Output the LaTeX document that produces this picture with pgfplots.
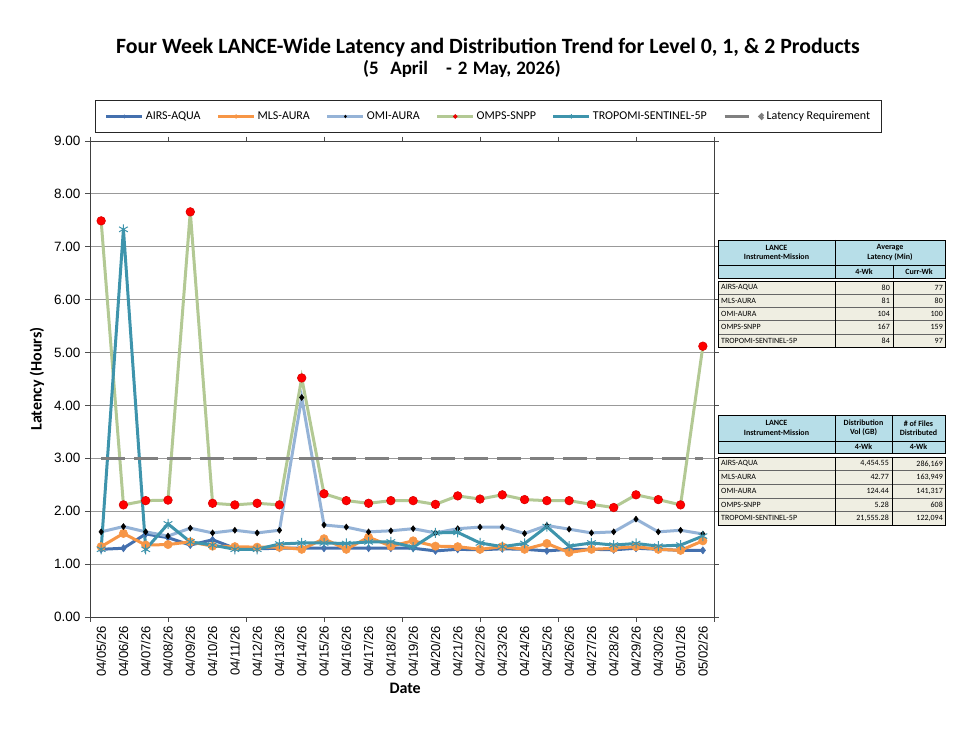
\documentclass[border=0pt]{standalone}
\usepackage{pgfplots}
\pgfplotsset{compat=1.18}
\usepackage{pgfplotstable}
\usepackage{fontspec}
\setmainfont{Carlito}
\newfontfamily\arialfont{Liberation Sans}

\definecolor{airs}{HTML}{4470AE}
\definecolor{mls}{HTML}{F79646}
\definecolor{omi}{HTML}{95B3D7}
\definecolor{omps}{HTML}{B3C994}
\definecolor{tropo}{HTML}{3E94AC}
\definecolor{req}{HTML}{808080}
\definecolor{hdr}{HTML}{B7DEE8}
\definecolor{bodyc}{HTML}{EFEEE2}

% daily latency (hours), day 0 = 04/05/26
\pgfplotstableread{
idx airs mls omi omps tropo
0 1.28 1.33 1.61 7.49 1.28
1 1.30 1.58 1.71 2.12 7.33
2 1.57 1.36 1.61 2.20 1.28
3 1.50 1.37 1.53 2.21 1.76
4 1.36 1.42 1.68 7.66 1.42
5 1.46 1.34 1.59 2.15 1.36
6 1.30 1.33 1.64 2.12 1.28
7 1.29 1.32 1.59 2.15 1.28
8 1.30 1.32 1.64 2.12 1.38
9 1.30 1.28 4.15 4.52 1.40
10 1.30 1.48 1.74 2.33 1.40
11 1.30 1.28 1.70 2.20 1.39
12 1.30 1.51 1.61 2.15 1.42
13 1.30 1.34 1.63 2.20 1.42
14 1.30 1.44 1.67 2.20 1.32
15 1.25 1.34 1.59 2.13 1.59
16 1.28 1.33 1.67 2.29 1.60
17 1.27 1.28 1.70 2.23 1.40
18 1.29 1.33 1.70 2.31 1.33
19 1.28 1.28 1.58 2.22 1.39
20 1.25 1.39 1.73 2.20 1.71
21 1.28 1.22 1.66 2.20 1.34
22 1.28 1.28 1.59 2.13 1.40
23 1.27 1.30 1.61 2.07 1.36
24 1.30 1.33 1.85 2.31 1.39
25 1.28 1.28 1.61 2.22 1.34
26 1.26 1.26 1.64 2.12 1.36
27 1.26 1.44 1.57 5.12 1.53
}\lat

\begin{document}
\begin{tikzpicture}
\useasboundingbox (0,0) rectangle (972pt,729pt);
\begin{axis}[
    at={(90pt,112pt)}, anchor=south west,
    scale only axis,
    width=624pt, height=476pt,
    xmin=-0.5, xmax=27.5,
    ymin=0, ymax=9,
    ytick={0,1,...,9},
    yticklabel={\pgfmathprintnumber[fixed,fixed zerofill,precision=2,assume math mode=true]{\tick}},
    yticklabel style={font=\arialfont\fontsize{13.5}{14}\selectfont, xshift=-6pt},
    major tick length=0pt,
    minor tick length=4.5pt,
    tick align=outside,
    minor ytick={0,1,...,9},
    minor xtick={-0.5,3,6.5,10,13.5,17,20.5,24,27.5},
    minor tick style={black!70, line width=0.9pt},
    xtick={0,...,27},
    xticklabels={04/05/26,04/06/26,04/07/26,04/08/26,04/09/26,04/10/26,04/11/26,04/12/26,04/13/26,04/14/26,04/15/26,04/16/26,04/17/26,04/18/26,04/19/26,04/20/26,04/21/26,04/22/26,04/23/26,04/24/26,04/25/26,04/26/26,04/27/26,04/28/26,04/29/26,04/30/26,05/01/26,05/02/26},
    xticklabel style={rotate=90, anchor=east, inner xsep=9pt, font=\arialfont\fontsize{13}{14}\selectfont},
    ymajorgrids,
    grid style={black!40, line width=1pt},
    axis line style={black!75, line width=0.9pt},
    ylabel={\textbf{Latency (Hours)}},
    ylabel style={at={(axis description cs:-0.085,0.5)}, anchor=center, font=\fontsize{16}{18}\selectfont},
    xlabel={\textbf{Date}},
    xlabel style={at={(axis description cs:0.505,-0.149)}, anchor=center, font=\fontsize{16}{18}\selectfont},
    legend columns=6,
    legend style={at={(axis description cs:0.6386,1.0515)}, anchor=center,
        draw=black!85, line width=1pt, font=\fontsize{12}{13}\selectfont,
        inner xsep=9pt, inner ysep=9pt,
        /tikz/every even column/.append style={column sep=14pt}},
    legend cell align=left,
    legend image code/.code={\draw[mark repeat=2,mark phase=2, every mark/.append style={scale=0.45}] plot coordinates {(0pt,0pt) (18pt,0pt) (36pt,0pt)};},
]
\addplot[airs, line width=3pt, mark=diamond*, mark size=3.6pt, mark options={solid, line width=0.5pt, fill=airs}] table[x=idx, y=airs] {\lat};
\addlegendentry{AIRS-AQUA}
\addplot[mls, line width=3pt, mark=*, mark size=4.2pt, mark options={solid, line width=0.5pt, fill=mls}] table[x=idx, y=mls] {\lat};
\addlegendentry{MLS-AURA}
\addplot[omi, line width=3pt, mark=diamond*, mark size=3pt, mark options={solid, line width=0.5pt, draw=black, fill=black}] table[x=idx, y=omi] {\lat};
\addlegendentry{OMI-AURA}
\addplot[omps, line width=3pt, mark=*, mark size=4.3pt, mark options={solid, line width=0.6pt, draw=red!85!black, fill=red}] table[x=idx, y=omps] {\lat};
\addlegendentry{OMPS-SNPP}
\addplot[tropo, line width=3pt, mark=asterisk, mark size=5pt, mark options={solid, line width=1pt}] table[x=idx, y=tropo] {\lat};
\addlegendentry{TROPOMI-SENTINEL-5P}
\addplot[req, line width=3.5pt, dash pattern=on 24pt off 9pt,
    legend image code/.code={\draw[req, line width=3.5pt] (0pt,0pt) -- (32pt,0pt); \fill[req] (37pt,0pt) circle (1.3pt);}]
    coordinates {(0,3) (27,3)};
\addlegendentry{Latency Requirement}
\end{axis}

\begin{scope}[x=1pt, y=-1pt, yshift=729pt]
% titles
\node[font=\bfseries\fontsize{21.8}{24}\selectfont] at (488,48) {Four Week LANCE-Wide Latency and Distribution Trend for Level 0, 1, \& 2 Products};
\node[font=\bfseries\fontsize{19}{22}\selectfont, anchor=west, inner sep=0pt] at (363,69) {(5\hspace{11.5pt}April\hspace{18pt}-\hspace{6pt}2\hspace{5.4pt}May,\hspace{5pt}2026)};

% table 1: average latency
\fill[hdr] (718,240) rectangle (945,278);
\fill[bodyc] (718,281) rectangle (945,347);
\draw[black, line width=0.7pt] (718,240) rectangle (945,278);
\draw[black, line width=0.7pt] (718,265) -- (945,265);
\draw[black, line width=0.7pt] (835,240) -- (835,278) (893,265) -- (893,278);
\draw[black!60, line width=0.5pt] (718,294) -- (945,294) (718,307) -- (945,307) (718,320) -- (945,320) (718,334) -- (945,334);
\draw[black, line width=0.7pt] (718,281) rectangle (945,347) (835,281) -- (835,347) (893,281) -- (893,347);
\begin{scope}[every node/.style={font=\bfseries\fontsize{8}{9.5}\selectfont, align=center, inner sep=0pt}]
\node at (776.5,252.5) {LANCE\\Instrument-Mission};
\node at (890,252.5) {Average\\Latency (Min)};
\node at (864,271.5) {4-Wk};
\node at (919,271.5) {Curr-Wk};
\end{scope}
\begin{scope}[every node/.style={font=\fontsize{8}{9.5}\selectfont, inner sep=0pt}]
\node[anchor=west] at (721,287.5) {AIRS-AQUA};
\node[anchor=west] at (721,300.5) {MLS-AURA};
\node[anchor=west] at (721,313.5) {OMI-AURA};
\node[anchor=west] at (721,327) {OMPS-SNPP};
\node[anchor=west] at (721,340.5) {TROPOMI-SENTINEL-5P};
\node[anchor=east] at (890,287.5) {80};
\node[anchor=east] at (890,300.5) {81};
\node[anchor=east] at (890,313.5) {104};
\node[anchor=east] at (890,327) {167};
\node[anchor=east] at (890,340.5) {84};
\node[anchor=east] at (943,287.5) {77};
\node[anchor=east] at (943,300.5) {80};
\node[anchor=east] at (943,313.5) {100};
\node[anchor=east] at (943,327) {159};
\node[anchor=east] at (943,340.5) {97};
\end{scope}

% table 2: distribution
\fill[hdr] (718,415) rectangle (945,453);
\fill[bodyc] (718,457) rectangle (945,525);
\draw[black, line width=0.7pt] (718,415) rectangle (945,453);
\draw[black, line width=0.7pt] (718,441) -- (945,441);
\draw[black, line width=0.7pt] (835,415) -- (835,453) (892,415) -- (892,453);
\draw[black!60, line width=0.5pt] (718,470.6) -- (945,470.6) (718,484.2) -- (945,484.2) (718,497.8) -- (945,497.8) (718,511.4) -- (945,511.4);
\draw[black, line width=0.7pt] (718,457) rectangle (945,525) (835,457) -- (835,525) (892,457) -- (892,525);
\begin{scope}[every node/.style={font=\bfseries\fontsize{8}{9.5}\selectfont, align=center, inner sep=0pt}]
\node at (776.5,428) {LANCE\\Instrument-Mission};
\node at (863.5,428) {Distribution\\Vol (GB)};
\node at (918.5,428) {\# of Files\\Distributed};
\node at (863.5,447) {4-Wk};
\node at (918.5,447) {4-Wk};
\end{scope}
\begin{scope}[every node/.style={font=\fontsize{8}{9.5}\selectfont, inner sep=0pt}]
\node[anchor=west] at (721,463.8) {AIRS-AQUA};
\node[anchor=west] at (721,477.4) {MLS-AURA};
\node[anchor=west] at (721,491) {OMI-AURA};
\node[anchor=west] at (721,504.6) {OMPS-SNPP};
\node[anchor=west] at (721,518.2) {TROPOMI-SENTINEL-5P};
\node[anchor=east] at (889,463.8) {4,454.55};
\node[anchor=east] at (889,477.4) {42.77};
\node[anchor=east] at (889,491) {124.44};
\node[anchor=east] at (889,504.6) {5.28};
\node[anchor=east] at (889,518.2) {21,555.28};
\node[anchor=east] at (943,463.8) {286,169};
\node[anchor=east] at (943,477.4) {163,949};
\node[anchor=east] at (943,491) {141,317};
\node[anchor=east] at (943,504.6) {608};
\node[anchor=east] at (943,518.2) {122,094};
\end{scope}
\end{scope}
\end{tikzpicture}
\end{document}
